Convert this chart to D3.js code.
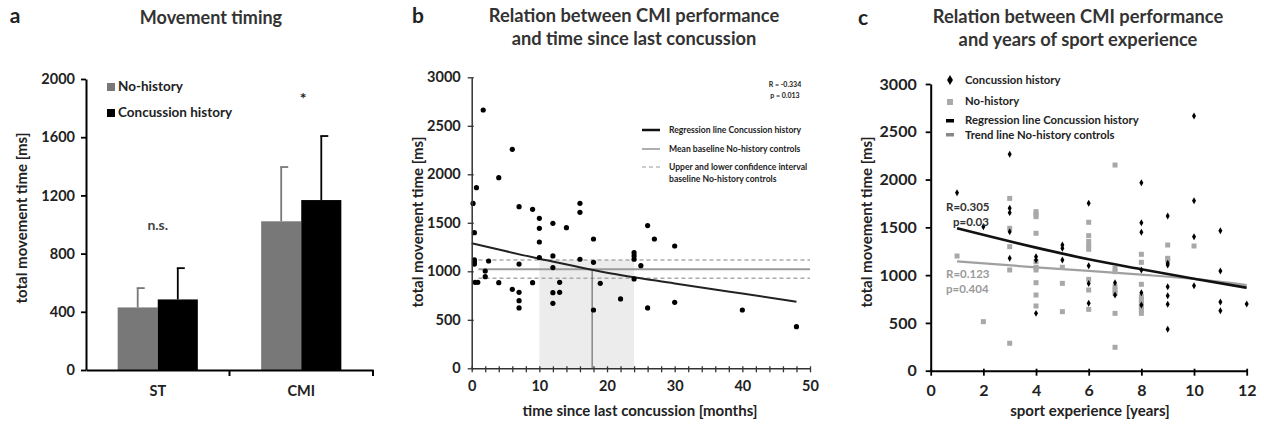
<!DOCTYPE html>
<html>
<head>
<meta charset="utf-8">
<script src="https://cdn.jsdelivr.net/npm/d3@7"></script>
<style>
  body { margin: 0; background: #fff; }
  text { font-family: Lato, "Open Sans", sans-serif; font-weight: bold; }
</style>
</head>
<body>
<div id="chart-area"></div>
<script>
// ---- panel a data
const barCategories = ["ST", "CMI"]
const barGroups = ["No-history", "Concussion history"]
const noHistoryMean = [430, 1022]
const noHistorySd = [133, 373]
const concussionMean = [485, 1168]
const concussionSd = [215, 440]
const barTicks = [0, 400, 800, 1200, 1600, 2000]

// ---- panel b data
const monthsSince = [1.7, 0.7, 0.2, 0.4, 0.4, 0.4, 0.4, 0.5, 0.9, 2.5, 2, 2, 4, 4, 6, 6, 7, 7, 7, 7, 7, 9, 9,
  10, 10, 10, 10, 12, 12, 12, 12, 12, 13, 13, 14, 16, 16, 16, 18, 18, 18, 19, 22, 24, 24, 24, 24, 25, 26, 26, 27, 30, 30, 40, 48]
const cmiTimeB = [2663, 1862, 1700, 1398, 1117, 1095, 1075, 886, 886, 1106, 1003, 945, 1965, 883, 2257, 814, 1666, 1075, 783, 697, 622, 1639, 883,
  1546, 1443, 1302, 1141, 1495, 1158, 1038, 780, 670, 886, 783, 1450, 1701, 1608, 1124, 1333, 1093, 601, 876, 715, 1192, 1158, 1124, 921, 1058, 1471, 622, 1333, 1261, 680, 601, 429]
const regMonthsX = [0, 10, 20, 30, 40, 48]
const regMonthsY = [1289, 1130, 985, 875, 770, 687]
const baselineMean = 1020
const baselineUpper = 1116
const baselineLower = 928
const ciMonths = [10, 24]
const crossMonth = 17.8
const timeTicks = [0, 500, 1000, 1500, 2000, 2500, 3000]

// ---- panel c data
const yearsConc = [1, 2, 3, 3, 3, 3, 3, 4, 4, 4, 5, 5, 5, 6, 6, 6, 6, 7, 7, 8, 8, 8, 8, 8, 8,
  9, 9, 9, 9, 9, 9, 9, 10, 10, 10, 10, 11, 11, 11, 11, 12]
const cmiConc = [1863, 1507, 2264, 1699, 1654, 1455, 1176, 1193, 1158, 600, 1315, 1280, 1158, 1752, 1099, 912, 705, 921, 792, 1967, 1549, 1448, 1054, 816, 687,
  1619, 1124, 1106, 879, 785, 695, 433, 2665, 1778, 1402, 889, 1465, 1043, 719, 628, 698]
const yearsNo = [1, 2, 3, 3, 3, 3, 3, 4, 4, 4, 4, 4, 4, 4, 4, 4, 4, 5, 5, 5, 6, 6, 6, 6, 6, 6, 6, 6,
  7, 7, 7, 7, 7, 7, 7, 7, 8, 8, 8, 8, 8, 8, 8, 8, 8, 9, 9, 9, 10]
const cmiNo = [1200, 513, 1803, 1490, 1298, 1054, 287, 1664, 1636, 1612, 1438, 1141, 1082, 1054, 921, 792, 677, 1082, 914, 618, 1553, 1413, 1352, 1306, 1271, 956, 844, 642,
  2152, 1071, 1036, 879, 844, 810, 600, 245, 1218, 1134, 904, 774, 740, 705, 670, 635, 600, 1315, 1176, 1159, 1305]
const regYearsX = [1, 4, 6, 8, 10, 12]
const regConcY = [1490, 1288, 1166, 1062, 962, 868]
const trendNoY = [1143, 1082, 1045, 1005, 960, 896]
const yearTicks = [0, 2, 4, 6, 8, 10, 12]

const svg = d3.select("#chart-area").append("svg")
  .attr("width", 1264)
  .attr("height", 425)

const INK = "#222"

// ================= panel a =================
const ga = svg.append("g")
const xA = d3.scaleBand().domain(barCategories).range([86, 373]).padding(0)
const xA1 = d3.scaleBand().domain(barGroups).range([0, xA.bandwidth()]).paddingInner(0).paddingOuter(0.79)
const yA = d3.scaleLinear().domain([0, 2000]).range([370, 79])
const barColor = { "No-history": "#787878", "Concussion history": "#000" }

const barData = []
barCategories.forEach((c, i) => {
  barData.push({ cat: c, grp: barGroups[0], m: noHistoryMean[i], sd: noHistorySd[i] })
  barData.push({ cat: c, grp: barGroups[1], m: concussionMean[i], sd: concussionSd[i] })
})

// error bars (upward only)
barData.forEach(d => {
  const cx = xA(d.cat) + xA1(d.grp) + xA1.bandwidth() / 2
  ga.append("line")
    .attr("x1", cx).attr("x2", cx)
    .attr("y1", yA(d.m)).attr("y2", yA(d.m + d.sd))
    .attr("stroke", barColor[d.grp]).attr("stroke-width", 1.8)
  ga.append("line")
    .attr("x1", cx - 1).attr("x2", cx + 7)
    .attr("y1", yA(d.m + d.sd)).attr("y2", yA(d.m + d.sd))
    .attr("stroke", barColor[d.grp]).attr("stroke-width", 1.8)
})

ga.selectAll("rect.bar").data(barData).enter().append("rect")
  .attr("class", "bar")
  .attr("x", d => xA(d.cat) + xA1(d.grp))
  .attr("y", d => yA(d.m))
  .attr("width", xA1.bandwidth())
  .attr("height", d => yA(0) - yA(d.m))
  .attr("fill", d => barColor[d.grp])

const yAxisA = ga.append("g")
  .attr("transform", "translate(86,0)")
  .call(d3.axisLeft(yA).tickValues(barTicks).tickSize(5).tickSizeOuter(0).tickPadding(6).tickFormat(d3.format("d")))
const xAxisA = ga.append("g")
  .attr("transform", "translate(0,370)")
  .call(d3.axisBottom(xA).tickSize(0).tickPadding(16))
// category dividers
ga.selectAll("line.div").data([xA.range()[0] + xA.step(), xA.range()[1]]).enter().append("line")
  .attr("x1", d => d).attr("x2", d => d).attr("y1", 370).attr("y2", 376)
  .attr("stroke", "#000").attr("stroke-width", 2)

ga.append("text").attr("x", 15).attr("y", 23).attr("text-anchor", "middle").attr("font-size", "21px").attr("fill", INK).text("a")
ga.append("text").attr("x", 211).attr("y", 24).attr("text-anchor", "middle").attr("font-size", "18px").attr("fill", "#333").text("Movement timing")
ga.append("text").attr("x", -218).attr("y", 27).attr("transform", "rotate(-90)")
  .attr("text-anchor", "middle").attr("font-size", "15px").attr("fill", INK).text("total movement time [ms]")
ga.append("text").attr("x", xA("ST") + xA.bandwidth() / 2).attr("y", 230).attr("text-anchor", "middle").attr("font-size", "14px").attr("fill", "#444").text("n.s.")
ga.append("text").attr("x", xA("CMI") + xA.bandwidth() / 2 + 2).attr("y", 104).attr("text-anchor", "middle").attr("font-size", "16px").attr("fill", INK).text("*")

// legend a
barGroups.forEach((gname, i) => {
  ga.append("rect").attr("x", 107).attr("y", 83 + i * 26).attr("width", 8).attr("height", 8).attr("fill", barColor[gname])
  ga.append("text").attr("x", 118).attr("y", 91 + i * 26).attr("font-size", "13.5px").attr("fill", INK).text(gname)
})

// ================= panel b =================
const gb = svg.append("g")
const xB = d3.scaleLinear().domain([0, 50]).range([471.7, 810])
const yB = d3.scaleLinear().domain([0, 3000]).range([368.3, 77.3])

gb.append("rect")
  .attr("x", xB(ciMonths[0])).attr("y", yB(baselineUpper))
  .attr("width", xB(ciMonths[1]) - xB(ciMonths[0]))
  .attr("height", yB(0) - yB(baselineUpper))
  .attr("fill", "#ececec")

gb.append("line")
  .attr("x1", xB(1)).attr("x2", xB(50)).attr("y1", yB(baselineMean)).attr("y2", yB(baselineMean))
  .attr("stroke", "#9a9a9a").attr("stroke-width", 2)
;[baselineUpper, baselineLower].forEach(v => {
  gb.append("line")
    .attr("x1", xB(1)).attr("x2", xB(50)).attr("y1", yB(v)).attr("y2", yB(v))
    .attr("stroke", "#aaa").attr("stroke-width", 1.4).attr("stroke-dasharray", "4,3")
})
gb.append("line")
  .attr("x1", xB(crossMonth)).attr("x2", xB(crossMonth)).attr("y1", yB(0)).attr("y2", yB(baselineMean))
  .attr("stroke", "#555").attr("stroke-width", 1)

gb.append("path")
  .datum(regMonthsX.map((x, i) => [x, regMonthsY[i]]))
  .attr("fill", "none").attr("stroke", "#222").attr("stroke-width", 2)
  .attr("d", d3.line().x(d => xB(d[0])).y(d => yB(d[1])).curve(d3.curveMonotoneX))

gb.selectAll("circle").data(monthsSince).enter().append("circle")
  .attr("cx", d => xB(d))
  .attr("cy", (d, i) => yB(cmiTimeB[i]))
  .attr("r", 2.6)
  .attr("fill", "#000")

const xAxisB = gb.append("g")
  .attr("transform", "translate(0,368.3)")
  .call(d3.axisBottom(xB).tickValues(d3.range(0, 51, 2)).tickSize(4).tickSizeOuter(0).tickPadding(8)
    .tickFormat(d => d % 10 === 0 ? d : ""))
xAxisB.selectAll(".tick line").attr("y1", -2)
const yAxisB = gb.append("g")
  .attr("transform", "translate(471.7,0)")
  .call(d3.axisLeft(yB).tickValues(timeTicks).tickSize(4).tickSizeOuter(0).tickPadding(7).tickFormat(d3.format("d")))
yAxisB.selectAll(".tick line").attr("x1", 2)

gb.append("text").attr("x", 418).attr("y", 23).attr("text-anchor", "middle").attr("font-size", "21px").attr("fill", INK).text("b")
gb.append("text").attr("x", 634).attr("y", 22).attr("text-anchor", "middle").attr("font-size", "18.3px").attr("fill", "#333").text("Relation between CMI performance")
gb.append("text").attr("x", 634).attr("y", 45).attr("text-anchor", "middle").attr("font-size", "18.3px").attr("fill", "#333").text("and time since last concussion")
gb.append("text").attr("x", -222).attr("y", 423).attr("transform", "rotate(-90)")
  .attr("text-anchor", "middle").attr("font-size", "15px").attr("fill", INK).text("total movement time [ms]")
gb.append("text").attr("x", 640).attr("y", 416).attr("text-anchor", "middle").attr("font-size", "15px").attr("fill", INK).text("time since last concussion [months]")
gb.append("text").attr("x", 785).attr("y", 87).attr("text-anchor", "middle").attr("font-size", "7px").attr("fill", INK).text("R = -0.334")
gb.append("text").attr("x", 785).attr("y", 98).attr("text-anchor", "middle").attr("font-size", "7px").attr("fill", INK).text("p = 0.013")

// legend b
gb.append("line").attr("x1", 642).attr("x2", 660).attr("y1", 130).attr("y2", 130).attr("stroke", "#111").attr("stroke-width", 2.5)
gb.append("line").attr("x1", 642).attr("x2", 660).attr("y1", 149).attr("y2", 149).attr("stroke", "#9a9a9a").attr("stroke-width", 1.6)
gb.append("line").attr("x1", 642).attr("x2", 660).attr("y1", 167).attr("y2", 167).attr("stroke", "#bbb").attr("stroke-width", 1.4).attr("stroke-dasharray", "4,3")
const legB = ["Regression line Concussion history", "Mean baseline No-history controls", "Upper and lower confidence interval", "baseline No-history controls"]
const legBy = [133, 152, 170, 182]
legB.forEach((t, i) => {
  gb.append("text").attr("x", 669).attr("y", legBy[i]).attr("font-size", "8.6px").attr("fill", INK).text(t)
})

// ================= panel c =================
const gc = svg.append("g")
const xC = d3.scaleLinear().domain([0, 12]).range([930.7, 1246.7])
const yC = d3.scaleLinear().domain([0, 3000]).range([370.7, 84])

gc.append("path")
  .datum(regYearsX.map((x, i) => [x, trendNoY[i]]))
  .attr("fill", "none").attr("stroke", "#a0a0a0").attr("stroke-width", 2.2)
  .attr("d", d3.line().x(d => xC(d[0])).y(d => yC(d[1])).curve(d3.curveMonotoneX))
gc.append("path")
  .datum(regYearsX.map((x, i) => [x, regConcY[i]]))
  .attr("fill", "none").attr("stroke", "#111").attr("stroke-width", 2.6)
  .attr("d", d3.line().x(d => xC(d[0])).y(d => yC(d[1])).curve(d3.curveMonotoneX))

gc.selectAll("rect.no").data(yearsNo).enter().append("rect")
  .attr("class", "no")
  .attr("x", d => xC(d) - 2.5)
  .attr("y", (d, i) => yC(cmiNo[i]) - 2.5)
  .attr("width", 5).attr("height", 5)
  .attr("fill", "#a8a8a8")
const diamond = d3.symbol().type(d3.symbolDiamond).size(14)
gc.selectAll("path.conc").data(yearsConc).enter().append("path")
  .attr("class", "conc")
  .attr("transform", (d, i) => `translate(${xC(d)},${yC(cmiConc[i])})`)
  .attr("d", diamond)
  .attr("fill", "#000")

const xAxisC = gc.append("g")
  .attr("transform", "translate(0,370.7)")
  .call(d3.axisBottom(xC).tickValues(yearTicks).tickSize(5).tickSizeOuter(0).tickPadding(9))
xAxisC.selectAll(".tick line").attr("y1", -2)
const yAxisC = gc.append("g")
  .attr("transform", "translate(930.7,0)")
  .call(d3.axisLeft(yC).tickValues(timeTicks).tickSize(5).tickSizeOuter(0).tickPadding(9).tickFormat(d3.format("d")))

gc.append("text").attr("x", 863).attr("y", 25).attr("text-anchor", "middle").attr("font-size", "21px").attr("fill", INK).text("c")
gc.append("text").attr("x", 1078).attr("y", 23).attr("text-anchor", "middle").attr("font-size", "18.3px").attr("fill", "#333").text("Relation between CMI performance")
gc.append("text").attr("x", 1078).attr("y", 46).attr("text-anchor", "middle").attr("font-size", "18.3px").attr("fill", "#333").text("and years of sport experience")
gc.append("text").attr("x", -222).attr("y", 872).attr("transform", "rotate(-90)")
  .attr("text-anchor", "middle").attr("font-size", "15px").attr("fill", INK).text("total movement time [ms]")
gc.append("text").attr("x", 1090).attr("y", 416).attr("text-anchor", "middle").attr("font-size", "15px").attr("fill", INK).text("sport experience [years]")

gc.append("text").attr("x", 946).attr("y", 211).attr("font-size", "11.5px").attr("fill", "#333").text("R=0.305")
gc.append("text").attr("x", 953).attr("y", 226).attr("font-size", "11.5px").attr("fill", "#333").text("p=0.03")
gc.append("text").attr("x", 946).attr("y", 278).attr("font-size", "11.5px").attr("fill", "#9a9a9a").text("R=0.123")
gc.append("text").attr("x", 946).attr("y", 293).attr("font-size", "11.5px").attr("fill", "#9a9a9a").text("p=0.404")

// legend c
gc.append("path").attr("transform", "translate(950,80)").attr("d", d3.symbol().type(d3.symbolDiamond).size(30)).attr("fill", "#000")
gc.append("rect").attr("x", 947).attr("y", 99).attr("width", 6).attr("height", 6).attr("fill", "#aaa")
gc.append("rect").attr("x", 946).attr("y", 119).attr("width", 8).attr("height", 3.5).attr("fill", "#000")
gc.append("rect").attr("x", 946).attr("y", 133).attr("width", 8).attr("height", 3.5).attr("fill", "#888")
const legC = ["Concussion history", "No-history", "Regression line Concussion history", "Trend line No-history controls"]
const legCy = [84, 105, 124, 139]
legC.forEach((t, i) => {
  gc.append("text").attr("x", 965).attr("y", legCy[i]).attr("font-size", "11.3px").attr("fill", INK).text(t)
})

// axis styling
svg.selectAll(".domain").attr("stroke", "#000").attr("stroke-width", 2)
svg.selectAll(".tick line").attr("stroke", "#000").attr("stroke-width", 1.8)
svg.selectAll(".tick text").attr("font-size", "14.5px").attr("fill", INK)
gb.selectAll(".domain").attr("stroke", "#333").attr("stroke-width", 1.5)
gb.selectAll(".tick line").attr("stroke", "#333").attr("stroke-width", 1.3)
xAxisC.selectAll(".tick text").attr("font-size", "16px")
yAxisC.selectAll(".tick text").attr("font-size", "16px")
</script>
</body>
</html>
